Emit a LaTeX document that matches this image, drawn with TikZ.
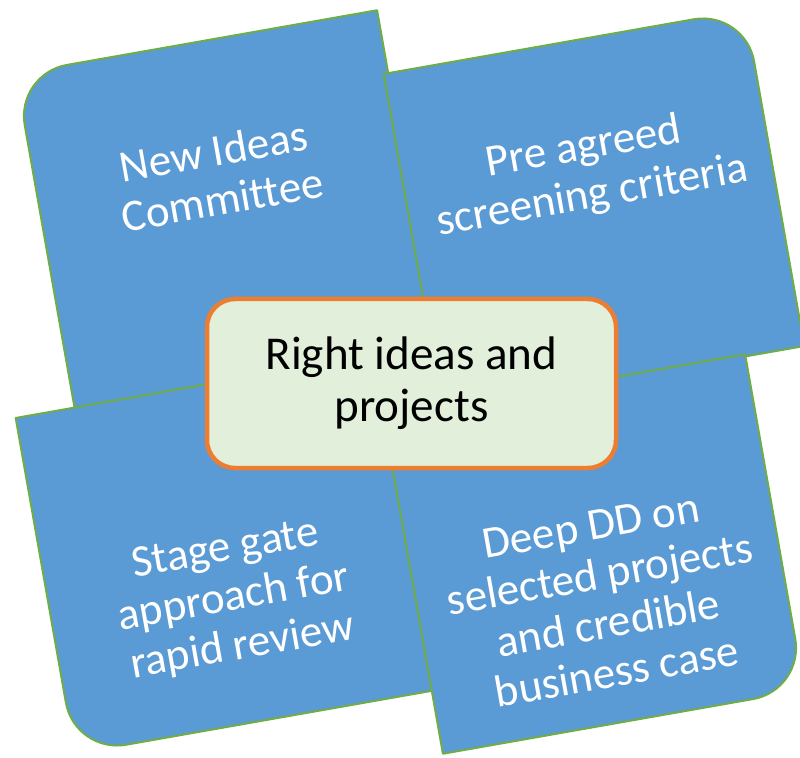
\documentclass[tikz,border=0pt]{standalone}
\usepackage{fontspec}
\setmainfont{Carlito}[Ligatures=CommonOff]
\usepackage{tikz}
\usetikzlibrary{calc}

\definecolor{tileblue}{HTML}{5B9BD5}
\definecolor{tilegreen}{HTML}{70AD47}
\definecolor{boxorange}{HTML}{ED7D31}
\definecolor{boxgreen}{HTML}{E2EFDA}

\begin{document}
\begin{tikzpicture}[
	tile/.style={fill=tileblue,draw=tilegreen,line width=1.4pt,line join=round},
	tiletext/.style={text=white,align=center,rotate=10,font=\fontsize{32}{35.2}\selectfont},
	centrebox/.style={draw=boxorange,fill=boxgreen,line width=3.2pt,rounded corners=.7cm,
		minimum width=10.225cm,minimum height=4.225cm,align=center,font=\fontsize{33.5}{37}\selectfont}]
\useasboundingbox (0,0) rectangle (20,18.925);

%in alto a sinistra
\begin{scope}[shift={(5.65,13.675)},rotate=10,xscale=-1]
\draw[tile] (-4.5875,-4.2625) -- (-4.5875,4.2625) -- (3.2875,4.2625) arc[start angle=90,end angle=0,radius=1.3] -- (4.5875,-4.2625) -- cycle;
\end{scope}
\node[tiletext] (ideas) at(5.45,14.55){New Ideas\\Committee};

%in alto a destra
\begin{scope}[shift={(14.85,13.675)},rotate=10]
\draw[tile] (-4.5875,-4.2625) -- (-4.5875,4.2625) -- (3.2875,4.2625) arc[start angle=90,end angle=0,radius=1.3] -- (4.5875,-4.2625) -- cycle;
\end{scope}
\node[tiletext] (criteria) at(14.7,14.62){Pre agreed\\screening criteria};

%in basso a sinistra
\begin{scope}[shift={(5.65,5.075)},rotate=10,xscale=-1,yscale=-1]
\draw[tile] (-4.5875,-4.2625) -- (-4.5875,4.2625) -- (3.2875,4.2625) arc[start angle=90,end angle=0,radius=1.3] -- (4.5875,-4.2625) -- cycle;
\end{scope}
\node[tiletext] (stage) at(5.85,3.95){Stage gate\\approach for\\rapid review};

%in basso a destra
\begin{scope}[shift={(14.85,5.075)},rotate=10,yscale=-1]
\draw[tile] (-4.5875,-4.2625) -- (-4.5875,4.2625) -- (3.2875,4.2625) arc[start angle=90,end angle=0,radius=1.3] -- (4.5875,-4.2625) -- cycle;
\end{scope}
\node[tiletext] (deep) at(15.1,3.95){Deep DD on\\selected projects\\and credible\\business case};

%il centro
\node[centrebox] (right) at(10.2875,9.3375){Right ideas and\\projects};

\end{tikzpicture}
\end{document}
